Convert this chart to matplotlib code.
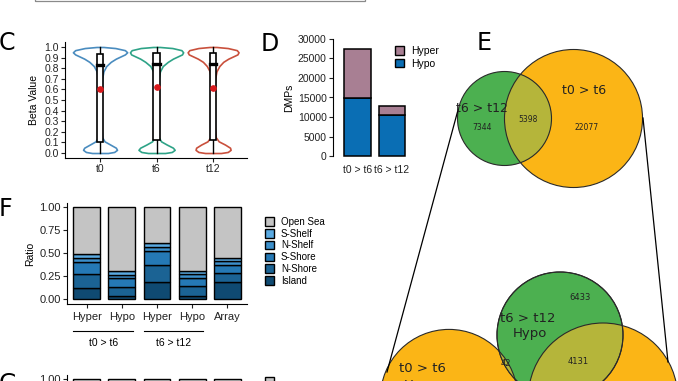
import numpy as np
import matplotlib.pyplot as plt
from matplotlib.patches import Patch, Circle, Rectangle

plt.rcParams['font.family'] = ['Liberation Sans', 'DejaVu Sans']

# ---- data ----
groups_c = ['t0', 't6', 't12']
beta_levels = [0.00, 0.01, 0.03, 0.05, 0.08, 0.11, 0.15, 0.30, 0.50, 0.70,
               0.77, 0.82, 0.86, 0.89, 0.91, 0.93, 0.95, 0.97, 0.99, 1.00]
violin_t0 = [0.14, 0.25, 0.30, 0.28, 0.18, 0.08, 0.035, 0.02, 0.02, 0.035,
             0.06, 0.11, 0.19, 0.28, 0.36, 0.44, 0.48, 0.44, 0.27, 0.06]
violin_t6 = [0.15, 0.27, 0.32, 0.29, 0.18, 0.08, 0.035, 0.02, 0.02, 0.035,
             0.06, 0.11, 0.20, 0.29, 0.37, 0.45, 0.47, 0.44, 0.28, 0.06]
violin_t12 = [0.14, 0.26, 0.31, 0.30, 0.21, 0.10, 0.045, 0.02, 0.02, 0.035,
              0.06, 0.11, 0.18, 0.27, 0.35, 0.43, 0.45, 0.42, 0.26, 0.06]
box_q1 = [0.10, 0.12, 0.12]
box_med = [0.83, 0.84, 0.84]
box_q3 = [0.93, 0.94, 0.94]
beta_mean = [0.60, 0.62, 0.61]

dmp_groups = ['t0 > t6', 't6 > t12']
dmp_hypo = [14900, 10606]
dmp_hyper = [12575, 2136]

f_labels = ['Hyper', 'Hypo', 'Hyper', 'Hypo', 'Array']
island = [0.12, 0.035, 0.185, 0.035, 0.18]
n_shore = [0.155, 0.10, 0.185, 0.105, 0.10]
s_shore = [0.125, 0.09, 0.15, 0.09, 0.09]
n_shelf = [0.045, 0.04, 0.045, 0.04, 0.04]
s_shelf = [0.045, 0.035, 0.045, 0.035, 0.04]
open_sea = [0.51, 0.70, 0.39, 0.695, 0.55]
g_ratio = [1.00, 1.00, 1.00, 1.00, 1.00]

venn_top = {'t6 > t12': 7344, 'both': 5398, 't0 > t6': 22077}
venn_low = {'hypo12_only': 6433, 'hypo12_hypo6': 4131, 'hypo12_hyper6': 42}
set_t0t6_hyper = 12575
set_t0t6_hypo = 14900

# ---- figure ----
W, H = 678, 381
fig = plt.figure(figsize=(W / 100, H / 100), dpi=100)


def add_ax(l, t, r, b):
    return fig.add_axes([l / W, 1 - b / H, (r - l) / W, (b - t) / H])


def style(ax, size=7.5):
    for s in ['top', 'right']:
        ax.spines[s].set_visible(False)
    for s in ['left', 'bottom']:
        ax.spines[s].set_linewidth(0.8)
    ax.tick_params(labelsize=size, length=3, width=0.8, pad=1.5, colors='#222222')


# top box edge (from panel above)
fig.patches.append(Rectangle((35 / W, 1 - 1 / H), 330 / W, 0.2, transform=fig.transFigure,
                             fill=False, ec='#8a8a8a', lw=0.9))

# ---- C ----
ax = add_ax(65, 42, 247, 158)
style(ax)
vcols = ['#4a8cbf', '#2ea387', '#c9503c']
for i, w in enumerate([violin_t0, violin_t6, violin_t12]):
    x0 = i + 1
    w = np.array(w)
    ax.fill_betweenx(beta_levels, x0 - w, x0 + w, facecolor='white', edgecolor=vcols[i], lw=1.2)
    ax.plot([x0, x0], [0, 1], color='black', lw=1.0, zorder=3)
    ax.add_patch(Rectangle((x0 - 0.055, box_q1[i]), 0.11, box_q3[i] - box_q1[i],
                           fc='white', ec='black', lw=1.2, zorder=4))
    ax.plot([x0 - 0.055, x0 + 0.055], [box_med[i]] * 2, color='black', lw=2.4, zorder=5)
    ax.plot(x0, beta_mean[i], 'o', color='#d7191c', ms=3.8, zorder=6)
ax.set_xlim(0.38, 3.6)
ax.set_ylim(-0.047, 1.047)
ax.set_yticks(np.arange(0, 1.01, 0.1))
ax.set_yticklabels(['%.1f' % v for v in np.arange(0, 1.01, 0.1)])
ax.set_xticks([1, 2, 3])
ax.set_xticklabels(groups_c)
ax.set_ylabel('Beta Value', fontsize=7.5, labelpad=4)

# ---- D ----
ax = add_ax(333, 36, 415, 159)
style(ax)
ax.spines['bottom'].set_visible(False)
ax.spines['left'].set_bounds(0, 30000)
xd = np.arange(1, len(dmp_groups) + 1)
ax.bar(xd, dmp_hypo, width=0.77, color='#0a6eb4', ec='black', lw=1.1)
ax.bar(xd, dmp_hyper, bottom=dmp_hypo, width=0.77, color='#a87f93', ec='black', lw=1.1)
ax.set_xlim(0.31, 2.66)
ax.set_ylim(-769, 30769)
ax.set_yticks(range(0, 30001, 5000))
ax.set_xticks(xd)
ax.set_xticklabels(dmp_groups)
ax.tick_params(axis='x', length=0, pad=4)
ax.set_ylabel('DMPs', fontsize=7.5, labelpad=3)
fig.legend(handles=[Patch(fc='#a87f93', ec='black', lw=1), Patch(fc='#0a6eb4', ec='black', lw=1)],
           labels=['Hyper', 'Hypo'], loc='upper left', bbox_to_anchor=(395 / W, 1 - 46 / H),
           frameon=False, fontsize=7.5, handlelength=0.9, handleheight=0.9,
           handletextpad=0.6, labelspacing=0.25, borderpad=0, borderaxespad=0)

# ---- F & G ----
fcols = ['#0f4a72', '#1b6394', '#2579b5', '#3c8fca', '#5aaae2', '#c4c4c4']
fnames = ['Island', 'N-Shore', 'S-Shore', 'N-Shelf', 'S-Shelf', 'Open Sea']
xf = np.arange(1, len(f_labels) + 1)
for top, series in [(203, [island, n_shore, s_shore, n_shelf, s_shelf, open_sea]),
                    (375, [g_ratio])]:
    ax = add_ax(67, top, 247, top + 101)
    style(ax, 8)
    bottom = np.zeros(len(f_labels))
    for k, vals in enumerate(series):
        c = fcols[k] if len(series) > 1 else '#c4c4c4'
        ax.bar(xf, vals, bottom=bottom, width=0.77, color=c, ec='black', lw=1.0)
        bottom += np.array(vals)
    ax.set_xlim(0.43, 5.57)
    ax.set_ylim(-0.054, 1.043)
    ax.set_yticks([0, 0.25, 0.5, 0.75, 1.0])
    ax.set_yticklabels(['0.00', '0.25', '0.50', '0.75', '1.00'])
    ax.set_xticks(xf)
    ax.tick_params(axis='x', pad=3)
    if len(series) > 1:
        ax.set_xticklabels(f_labels)
        ax.set_ylabel('Ratio', fontsize=7.5, labelpad=3)
        tr = ax.get_xaxis_transform()
        for (a, b), lab in [((0.60, 2.32), 't0 > t6'), ((2.63, 4.32), 't6 > t12')]:
            ax.plot([a, b], [-0.267, -0.267], color='black', lw=0.8, transform=tr, clip_on=False)
            ax.text((a + b) / 2, -0.39, lab, transform=tr, ha='center', va='center', fontsize=7.5)
        handles = [Patch(fc=fcols[k], ec='black', lw=1) for k in range(5, -1, -1)]
        labels = [fnames[k] for k in range(5, -1, -1)]
        fig.legend(handles=handles, labels=labels, loc='upper left',
                   bbox_to_anchor=(265 / W, 1 - 217 / H), frameon=False, fontsize=7,
                   handlelength=0.95, handleheight=0.95, handletextpad=0.7,
                   labelspacing=0.18, borderpad=0, borderaxespad=0)
    else:
        ax.set_xticklabels([])
        fig.legend(handles=[Patch(fc='#c4c4c4', ec='black', lw=1)], labels=[' '],
                   loc='upper left', bbox_to_anchor=(265 / W, 1 - 377 / H), frameon=False,
                   fontsize=7, handlelength=0.95, handleheight=0.95, handletextpad=0.7,
                   borderpad=0, borderaxespad=0)

# ---- E (Venn) ----
av = fig.add_axes([0, 0, 1, 1], zorder=-1)
av.set_xlim(0, W)
av.set_ylim(H, 0)
av.axis('off')
green, orange, olive, edge = '#4cb050', '#fbb516', '#b5b53a', '#2a2a2a'


def circle_pair(ax, g, o):
    ax.add_patch(Circle(o[0], o[1], fc=orange, ec='none'))
    ax.add_patch(Circle(g[0], g[1], fc=green, ec='none'))
    clip = Circle(o[0], o[1], transform=ax.transData)
    ov = Circle(g[0], g[1], fc=olive, ec='none')
    ax.add_patch(ov)
    ov.set_clip_path(clip)
    for c in (g, o):
        ax.add_patch(Circle(c[0], c[1], fill=False, ec=edge, lw=0.8))


k1 = 47 / np.sqrt(venn_top['t6 > t12'] + venn_top['both'])
r_g1 = k1 * np.sqrt(venn_top['t6 > t12'] + venn_top['both'])
r_o1 = k1 * np.sqrt(venn_top['t0 > t6'] + venn_top['both'])
circle_pair(av, ((504.5, 118.5), r_g1), ((573.5, 118.5), r_o1))
vt = dict(family='DejaVu Sans', ha='center', va='center', color='#222222')
av.text(482, 108, 't6 > t12', fontsize=9, **vt)
av.text(482, 128, str(venn_top['t6 > t12']), fontsize=5.5, **vt)
av.text(528, 119, str(venn_top['both']), fontsize=5.5, **vt)
av.text(587, 128, str(venn_top['t0 > t6']), fontsize=5.5, **vt)
av.text(584, 91, 't0 > t6', fontsize=9, **vt)

n_g2 = venn_low['hypo12_only'] + venn_low['hypo12_hypo6'] + venn_low['hypo12_hyper6']
k2 = 63 / np.sqrt(n_g2)
g2 = ((560, 335), k2 * np.sqrt(n_g2))
o_left = ((449, 398), k2 * np.sqrt(set_t0t6_hyper))
o_right = ((603, 323 + k2 * np.sqrt(set_t0t6_hypo)), k2 * np.sqrt(set_t0t6_hypo))
av.add_patch(Circle(o_left[0], o_left[1], fc=orange, ec='none'))
circle_pair(av, g2, o_right)
clip2 = Circle(o_left[0], o_left[1], transform=av.transData)
ov2 = Circle(g2[0], g2[1], fc=olive, ec='none')
av.add_patch(ov2)
ov2.set_clip_path(clip2)
av.add_patch(Circle(o_left[0], o_left[1], fill=False, ec=edge, lw=0.8))
av.add_patch(Circle(g2[0], g2[1], fill=False, ec=edge, lw=0.8))

av.text(528, 319, 't6 > t12', fontsize=9.5, **vt)
av.text(530, 334, 'Hypo', fontsize=9.5, **vt)
av.text(580, 298, str(venn_low['hypo12_only']), fontsize=6, **vt)
av.text(578, 362, str(venn_low['hypo12_hypo6']), fontsize=6, **vt)
av.text(506, 364, str(venn_low['hypo12_hyper6']), fontsize=6, **vt)
av.text(422, 368, 't0 > t6', fontsize=9.5, **vt)
av.text(424, 385, 'Hyper', fontsize=9.5, **vt)

# zoom connector lines
av.plot([458, 387], [110, 372], color='black', lw=0.9)
av.plot([643, 668], [118, 362], color='black', lw=0.9)

# panel letters
for lab, x, y in [('C', -1, 31), ('D', 261, 32), ('E', 477, 31), ('F', -1, 197), ('G', -1, 372)]:
    fig.text(x / W, 1 - y / H, lab, fontsize=17, family='DejaVu Sans', va='top', ha='left')

fig.savefig('out.png', dpi=100)
